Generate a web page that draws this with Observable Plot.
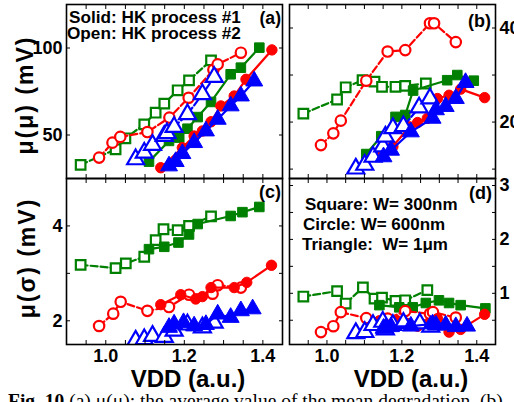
<!DOCTYPE html>
<html><head><meta charset="utf-8">
<script src="https://cdn.jsdelivr.net/npm/d3@7"></script>
<script src="https://cdn.jsdelivr.net/npm/@observablehq/plot@0.6"></script>
<style>
html,body{margin:0;padding:0;background:#fff;}
#fig{position:relative;width:514px;height:402px;overflow:hidden;background:#fff;font-family:"Liberation Sans",Arial,sans-serif;font-weight:bold;color:#000;}
#fig svg{position:absolute;left:0;top:0;overflow:visible;}
.t{position:absolute;white-space:nowrap;line-height:1;}
</style></head><body><div id="fig"></div>
<script>
// ---------- ticks ----------
const vddTicks = [0.95, 1.0, 1.05, 1.1, 1.15, 1.2, 1.25, 1.3, 1.35, 1.4];
const vddLabels = [1.0, 1.2, 1.4];
const yTicksA = [50, 100], yLabelsA = [50, 100];
const yTicksB = [10, 20, 30, 40], yLabelsB = [20, 40];
const yTicksC = [2, 3, 4], yLabelsC = [2, 4];
const yTicksD = [0.5, 1, 1.5, 2, 2.5, 3], yLabelsD = [1, 2, 3];

// ---------- data: [VDD, value] ----------
// (a) mu(mu) mV
const aSqOpen = [[0.936,32.8],[1.025,41.8],[1.050,48.1],[1.098,56.1],[1.127,62.8],[1.149,68.0],[1.183,75.7],[1.212,81.4],[1.268,92.9]];
const aSqSolid = [[1.110,34.7],[1.161,46.6],[1.187,48.5],[1.208,53.6],[1.234,60.3],[1.268,69.0],[1.318,84.9],[1.344,88.7],[1.391,100.2]];
const aCiOpen = [[0.983,37.0],[1.017,45.6],[1.037,48.9],[1.106,51.7],[1.162,60.0],[1.211,71.4],[1.274,87.5],[1.285,90.6],[1.344,97.3]];
const aCiSolid = [[1.140,31.2],[1.195,42.7],[1.225,49.4],[1.246,52.3],[1.268,57.6],[1.293,66.7],[1.327,72.4],[1.357,82.0],[1.423,98.9]];
const aTrOpen = [[1.076,36.0],[1.098,39.8],[1.119,44.3],[1.149,49.4],[1.156,51.0],[1.174,54.6],[1.208,61.9],[1.246,73.4],[1.276,83.3]];
const aTrSolid = [[1.161,32.2],[1.178,34.7],[1.195,39.3],[1.225,45.6],[1.255,52.3],[1.285,59.0],[1.318,66.7],[1.344,72.4],[1.378,81.0]];
// (b)
const bSqOpen = [[0.937,21.8],[1.027,24.8],[1.050,27.4],[1.095,28.9],[1.127,28.6],[1.147,27.5],[1.183,27.5],[1.209,27.7],[1.264,28.2]];
const bSqSolid = [[1.105,13.2],[1.145,17.0],[1.183,21.1],[1.209,21.5],[1.230,26.7],[1.321,28.9],[1.348,30.0],[1.392,28.8]];
const bCiOpen = [[0.984,15.1],[1.017,17.6],[1.037,20.3],[1.105,28.8],[1.162,35.0],[1.209,35.3],[1.275,41.0],[1.286,41.0],[1.344,37.0]];
const bCiSolid = [[1.140,13.0],[1.176,14.8],[1.220,19.0],[1.242,19.9],[1.268,20.8],[1.295,25.0],[1.326,25.7],[1.357,27.0],[1.421,25.2]];
const bTrOpen = [[1.077,10.1],[1.101,10.9],[1.123,12.6],[1.149,14.8],[1.156,16.9],[1.176,18.7],[1.204,19.1],[1.246,23.1],[1.275,25.0]];
const bTrSolid = [[1.151,12.6],[1.171,14.0],[1.224,17.9],[1.282,20.8],[1.291,22.6],[1.317,23.3],[1.344,25.0],[1.370,28.4]];
// (c) mu(sigma) mV
const cSqOpen = [[0.936,3.18],[1.025,3.11],[1.051,3.21],[1.098,3.35],[1.127,3.70],[1.147,3.93],[1.183,3.91],[1.212,4.00],[1.268,4.20]];
const cSqSolid = [[1.110,3.51],[1.149,3.56],[1.185,3.65],[1.212,3.82],[1.234,4.04],[1.318,4.21],[1.348,4.29],[1.391,4.40]];
const cCiOpen = [[0.983,1.89],[1.019,2.15],[1.038,2.40],[1.106,2.21],[1.161,2.29],[1.212,2.55],[1.272,2.57],[1.285,2.75],[1.344,2.70]];
const cCiSolid = [[1.140,2.34],[1.191,2.55],[1.229,2.46],[1.246,2.51],[1.268,2.70],[1.327,2.70],[1.359,2.81],[1.422,3.17]];
const cTrOpen = [[1.076,1.58],[1.098,1.61],[1.119,1.68],[1.149,1.66],[1.174,1.79],[1.208,1.92],[1.246,1.86],[1.276,1.96]];
const cTrSolid = [[1.161,1.86],[1.174,1.93],[1.198,1.96],[1.225,1.89],[1.255,1.92],[1.285,2.14],[1.318,2.07],[1.344,2.21],[1.374,2.25]];
// (d)
const dSqOpen = [[0.937,0.94],[1.027,1.04],[1.050,0.81],[1.096,1.11],[1.127,0.90],[1.147,0.92],[1.183,0.86],[1.209,0.87],[1.268,1.06]];
const dSqSolid = [[1.140,0.78],[1.193,0.74],[1.229,0.74],[1.264,0.82],[1.299,0.87],[1.326,0.82],[1.357,0.78],[1.423,0.72]];
const dCiOpen = [[0.984,0.28],[1.017,0.39],[1.037,0.65],[1.105,0.54],[1.162,0.53],[1.209,0.67],[1.275,0.62],[1.283,0.65],[1.344,0.55]];
const dCiSolid = [[1.140,0.49],[1.185,0.50],[1.215,0.44],[1.242,0.39],[1.268,0.43],[1.295,0.53],[1.326,0.28],[1.357,0.33],[1.421,0.61]];
const dTrOpen = [[1.077,0.26],[1.101,0.28],[1.123,0.41],[1.149,0.47],[1.156,0.33],[1.176,0.41],[1.204,0.45],[1.248,0.44],[1.277,0.38]];
const dTrSolid = [[1.151,0.35],[1.171,0.38],[1.224,0.39],[1.282,0.43],[1.291,0.41],[1.317,0.41],[1.344,0.38],[1.374,0.39]];

// ---------- styling ----------
const GREEN = "#008000", RED = "#ff0000", BLUE = "#0000ff";
const W = 514, H = 402;
const xDomain = [0.9, 1.45];

function seriesMarks(data, color, symbol, open) {
  const o = {x: d => d[0], y: d => d[1], clip: true};
  const r = symbol === "triangle" ? 6.3 : symbol === "square" ? 5.4 : 5.2;
  return [
    Plot.line(data, {...o, stroke: color, strokeWidth: 2.2, strokeDasharray: open ? "7,3" : null}),
    Plot.dot(data, {...o, symbol, r,
      fill: open ? "white" : color, stroke: color, strokeWidth: open ? 2.2 : 1})
  ];
}

function panel(frame, yDomain, yTicks, yLabels, side, showX, S) {
  const marks = [
    ...seriesMarks(S[0], GREEN, "square", true),
    ...seriesMarks(S[1], GREEN, "square", false),
    ...seriesMarks(S[2], RED, "circle", true),
    ...seriesMarks(S[3], RED, "circle", false),
    ...seriesMarks(S[4], BLUE, "triangle", true),
    ...seriesMarks(S[5], BLUE, "triangle", false),
    Plot.frame({stroke: "black", strokeWidth: 1.6}),
    Plot.axisX({anchor: "bottom", ticks: vddTicks, tickSize: -4, fill: "none", label: null}),
    Plot.axisX({anchor: "top", ticks: vddTicks, tickSize: -4, fill: "none", label: null}),
    Plot.axisY({anchor: "left", ticks: yTicks, tickSize: -4, fill: "none", label: null}),
    Plot.axisY({anchor: "right", ticks: yTicks, tickSize: -4, fill: "none", label: null}),
    Plot.axisY({anchor: side, ticks: yLabels, tickSize: 0, tickPadding: 4, tickFormat: d => String(d), label: null, fontSize: 18})
  ];
  if (showX) marks.push(Plot.axisX({anchor: "bottom", ticks: vddLabels, tickSize: 0, tickPadding: 5,
    tickFormat: d3.format(".1f"), label: null, fontSize: 18}));
  return Plot.plot({
    width: W, height: H,
    marginLeft: frame[0], marginRight: W - frame[1], marginTop: frame[2], marginBottom: H - frame[3],
    x: {domain: xDomain}, y: {domain: yDomain},
    style: {background: "transparent", fontFamily: "'Liberation Sans', Arial, sans-serif", fontWeight: "bold", fontSize: "18px", color: "black"},
    marks
  });
}

const fig = document.getElementById("fig");
fig.append(panel([66, 282, 4, 178], [25, 125], yTicksA, yLabelsA, "left", false,
  [aSqOpen, aSqSolid, aCiOpen, aCiSolid, aTrOpen, aTrSolid]));
fig.append(panel([289, 495, 4, 178], [8, 45], yTicksB, yLabelsB, "right", false,
  [bSqOpen, bSqSolid, bCiOpen, bCiSolid, bTrOpen, bTrSolid]));
fig.append(panel([66, 282, 178, 344], [1.5, 5], yTicksC, yLabelsC, "left", true,
  [cSqOpen, cSqSolid, cCiOpen, cCiSolid, cTrOpen, cTrSolid]));
fig.append(panel([289, 495, 178, 344], [0.05, 3.13], yTicksD, yLabelsD, "right", true,
  [dSqOpen, dSqSolid, dCiOpen, dCiSolid, dTrOpen, dTrSolid]));

// ---------- text ----------
function txt(s, css) {
  const d = document.createElement("div");
  d.className = "t";
  d.innerHTML = s;
  Object.assign(d.style, css);
  fig.append(d);
  return d;
}
// baseline helper for Liberation Sans, line-height 1: baseline = top + 0.8465*size
function at(x, base, size, align) {
  const top = (base - 0.8465 * size) + "px";
  if (align === "right") return {right: (W - x) + "px", top, fontSize: size + "px"};
  return {left: x + "px", top, fontSize: size + "px"};
}
txt("Solid: HK process #1", {...at(69, 25, 17.2), lineHeight: "0.85"});
txt("Open: HK process #2", {...at(67, 41, 17.2), lineHeight: "0.85"});
txt("(a)", at(281, 25, 17.6, "right"));
txt("(b)", at(491, 27, 18, "right"));
txt("(c)", at(281, 198, 18, "right"));
txt("(d)", at(492, 199, 18, "right"));
txt("Square: W= 300nm", at(305, 210, 17));
txt("Circle: W= 600nm", at(303, 230, 17));
txt("Triangle:&nbsp; W= 1μm", at(302, 250, 17));
// axis titles
txt("VDD (a.u.)", {left: "188px", top: "367px", fontSize: "24px", transform: "translateX(-50%)"});
txt("VDD (a.u.)", {left: "411px", top: "367px", fontSize: "24px", transform: "translateX(-50%)"});
txt("μ(μ) (mV)", {left: "25px", top: "95px", fontSize: "23px", letterSpacing: "2px", transform: "translate(-50%,-50%) rotate(-90deg)"});
txt("μ(σ) (mV)", {left: "27px", top: "258px", fontSize: "23px", letterSpacing: "2px", transform: "translate(-50%,-50%) rotate(-90deg)"});
// caption (cut off at the bottom)
txt("<b>Fig. 10</b> <span style='font-weight:normal'>(a) μ(μ): the average value of the mean degradation. (b)</span>",
  {left: "8px", top: "391px", fontSize: "19.5px", fontFamily: "'Liberation Serif', 'Times New Roman', serif"});
</script></body></html>
